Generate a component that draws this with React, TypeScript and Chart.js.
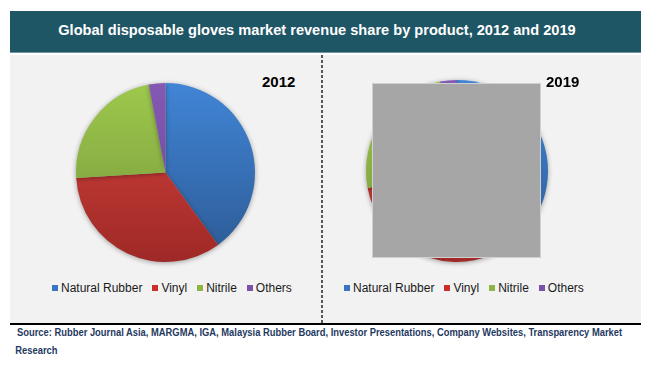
import React, { useEffect, useRef } from "react";
import { Chart, registerables } from "chart.js";

Chart.register(...registerables);

const categories = ["Natural Rubber", "Vinyl", "Nitrile", "Others"];
const share2012 = [40, 34, 23, 3];
const share2019 = [44, 28, 25, 3];
const years = ["2012", "2019"];
const titleText = "Global disposable gloves market revenue share by product, 2012 and 2019";
const sourceLine1 =
  "Source: Rubber Journal Asia, MARGMA, IGA, Malaysia Rubber Board, Investor Presentations, Company Websites, Transparency Market";
const sourceLine2 = "Research";

const sliceTop = ["#4185d6", "#d8433f", "#9ec84d", "#8459b3"];
const sliceBottom = ["#2c5a94", "#9e2926", "#74963a", "#6a4596"];
const legendColors = ["#3a74c4", "#c9302c", "#8cb544", "#7a52a8"];

const FONT = '"Liberation Sans", Arial, sans-serif';

const shadowPlugin = {
  id: "pieShadow",
  beforeDatasetsDraw(chart: any) {
    const ctx = chart.ctx;
    ctx.save();
    ctx.shadowColor = "rgba(0,0,0,0.35)";
    ctx.shadowBlur = 5;
    ctx.shadowOffsetX = 0;
    ctx.shadowOffsetY = 1;
  },
  afterDatasetsDraw(chart: any) {
    chart.ctx.restore();
  },
};

function Pie({ values, left, top, size }: { values: number[]; left: number; top: number; size: number }) {
  const ref = useRef<HTMLCanvasElement | null>(null);
  useEffect(() => {
    if (!ref.current) return;
    const chart = new Chart(ref.current, {
      type: "pie",
      data: {
        labels: categories,
        datasets: [
          {
            data: values,
            borderWidth: 0,
            backgroundColor: (c: any) => {
              const area = c.chart.chartArea;
              const i = c.dataIndex ?? 0;
              if (!area) return sliceTop[i];
              const g = c.chart.ctx.createLinearGradient(0, area.top, 0, area.bottom);
              g.addColorStop(0, sliceTop[i]);
              g.addColorStop(1, sliceBottom[i]);
              return g;
            },
          },
        ],
      },
      options: {
        responsive: false,
        maintainAspectRatio: false,
        animation: false,
        layout: { padding: 6 },
        plugins: {
          legend: { display: false },
          tooltip: { enabled: false },
          title: { display: false },
        },
      },
      plugins: [shadowPlugin],
    });
    return () => chart.destroy();
  }, [values]);
  return (
    <canvas
      ref={ref}
      width={size}
      height={size}
      style={{ position: "absolute", left, top, width: size, height: size }}
    />
  );
}

function Legend({ left, top }: { left: number; top: number }) {
  return (
    <div
      style={{
        position: "absolute",
        left,
        top,
        display: "flex",
        alignItems: "center",
        fontFamily: FONT,
        fontSize: 12,
        lineHeight: "14px",
        color: "#1a1a1a",
        whiteSpace: "nowrap",
      }}
    >
      {categories.map((c, i) => (
        <div key={c} style={{ display: "flex", alignItems: "center", marginRight: 10 }}>
          <span
            style={{ display: "inline-block", width: 6, height: 6, background: legendColors[i], marginRight: 3 }}
          />
          <span>{c}</span>
        </div>
      ))}
    </div>
  );
}

export default function App() {
  return (
    <div
      style={{
        position: "fixed",
        left: 0,
        top: 0,
        width: 650,
        height: 367,
        background: "#ffffff",
        overflow: "hidden",
        fontFamily: FONT,
      }}
    >
      <div
        style={{
          position: "absolute",
          left: 10,
          top: 11,
          width: 631,
          height: 42,
          background: "#1f5666",
          borderBottom: "1px solid #6f97a3",
          boxSizing: "border-box",
        }}
      />
      <div
        style={{
          position: "absolute",
          left: 10,
          top: 11,
          width: 614,
          height: 38,
          lineHeight: "38px",
          textAlign: "center",
          color: "#ffffff",
          fontWeight: "bold",
          fontSize: 14.6,
          whiteSpace: "nowrap",
        }}
      >
        {titleText}
      </div>
      <div
        style={{ position: "absolute", left: 10, top: 55, width: 631, height: 268, background: "#f2f2f2" }}
      />
      <div
        style={{
          position: "absolute",
          left: 321,
          top: 55,
          width: 2,
          height: 268,
          background: "repeating-linear-gradient(to bottom, #555 0px, #555 3px, transparent 3px, transparent 5px)",
        }}
      />
      <div style={{ position: "absolute", left: 10, top: 323, width: 631, height: 2, background: "#000" }} />

      <Pie values={share2012} left={70} top={77} size={191} />
      <Pie values={share2019} left={360} top={74} size={194} />

      <div
        style={{
          position: "absolute",
          left: 372,
          top: 83,
          width: 169,
          height: 175,
          background: "#a6a6a6",
          border: "1px solid #d0d0d0",
          boxSizing: "border-box",
        }}
      />

      <div style={{ position: "absolute", left: 262, top: 73, fontWeight: "bold", fontSize: 15, color: "#000" }}>
        {years[0]}
      </div>
      <div style={{ position: "absolute", left: 546, top: 73, fontWeight: "bold", fontSize: 15, color: "#000" }}>
        {years[1]}
      </div>

      <Legend left={52} top={281} />
      <Legend left={344} top={281} />

      <div
        style={{
          position: "absolute",
          left: 17,
          top: 323,
          fontWeight: "bold",
          fontSize: 10.8,
          lineHeight: "18px",
          color: "#1f3a5f",
          whiteSpace: "nowrap",
          transform: "scaleX(0.868)",
          transformOrigin: "0 0",
        }}
      >
        <div>{sourceLine1}</div>
        <div style={{ marginLeft: -2 }}>{sourceLine2}</div>
      </div>
    </div>
  );
}
